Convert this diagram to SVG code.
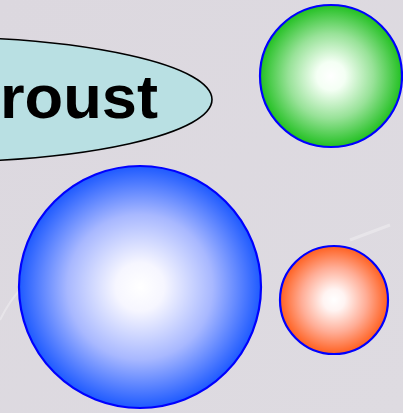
<svg xmlns="http://www.w3.org/2000/svg" width="403" height="413" viewBox="0 0 403 413">
  <style>
    .ball { stroke: #0000ff; stroke-width: 2.2; }
    .label { font-family: "Liberation Sans", Arial, sans-serif; font-weight: bold; font-size: 62px; fill: #000000; }
  </style>
  <defs>
    <radialGradient id="gBlue" cx="0.5" cy="0.5" r="0.5">
      <stop offset="0" stop-color="#ffffff"/>
      <stop offset="0.2" stop-color="#f6f6ff"/>
      <stop offset="0.6" stop-color="#a8b8ff"/>
      <stop offset="1" stop-color="#1e5aff"/>
    </radialGradient>
    <radialGradient id="gGreen" cx="0.5" cy="0.5" r="0.5">
      <stop offset="0" stop-color="#ffffff"/>
      <stop offset="0.2" stop-color="#f4fff4"/>
      <stop offset="0.6" stop-color="#98e298"/>
      <stop offset="1" stop-color="#22c022"/>
    </radialGradient>
    <radialGradient id="gOrange" cx="0.5" cy="0.5" r="0.5">
      <stop offset="0" stop-color="#ffffff"/>
      <stop offset="0.2" stop-color="#fff4f2"/>
      <stop offset="0.6" stop-color="#ffad96"/>
      <stop offset="1" stop-color="#ff6020"/>
    </radialGradient>
    <linearGradient id="bg" x1="0" y1="0" x2="1" y2="1">
      <stop offset="0" stop-color="#dcd8df"/>
      <stop offset="1" stop-color="#dedbe1"/>
    </linearGradient>
  </defs>
  <rect x="0" y="0" width="403" height="413" fill="url(#bg)"/>
  <g opacity="0.3" stroke="#ffffff" fill="none">
    <path d="M350 240 L390 225" stroke-width="3"/>
    <path d="M0 320 Q10 300 20 290" stroke-width="2"/>
    <path d="M160 190 L175 180" stroke-width="2"/>
  </g>
  <g id="node-proust">
    <ellipse cx="-70" cy="99.5" rx="282" ry="62.5" fill="#b9e0e3" stroke="#000000" stroke-width="1.6"/>
    <text class="label" x="0" y="118" textLength="158" lengthAdjust="spacingAndGlyphs">roust</text>
  </g>
  <g id="node-green">
    <circle class="ball" cx="331" cy="76" r="71" fill="url(#gGreen)"/>
  </g>
  <g id="node-blue">
    <circle class="ball" cx="140" cy="287" r="121" fill="url(#gBlue)"/>
  </g>
  <g id="node-orange">
    <circle class="ball" cx="334" cy="300" r="54" fill="url(#gOrange)"/>
  </g>
  <g id="connectors"/>
</svg>
